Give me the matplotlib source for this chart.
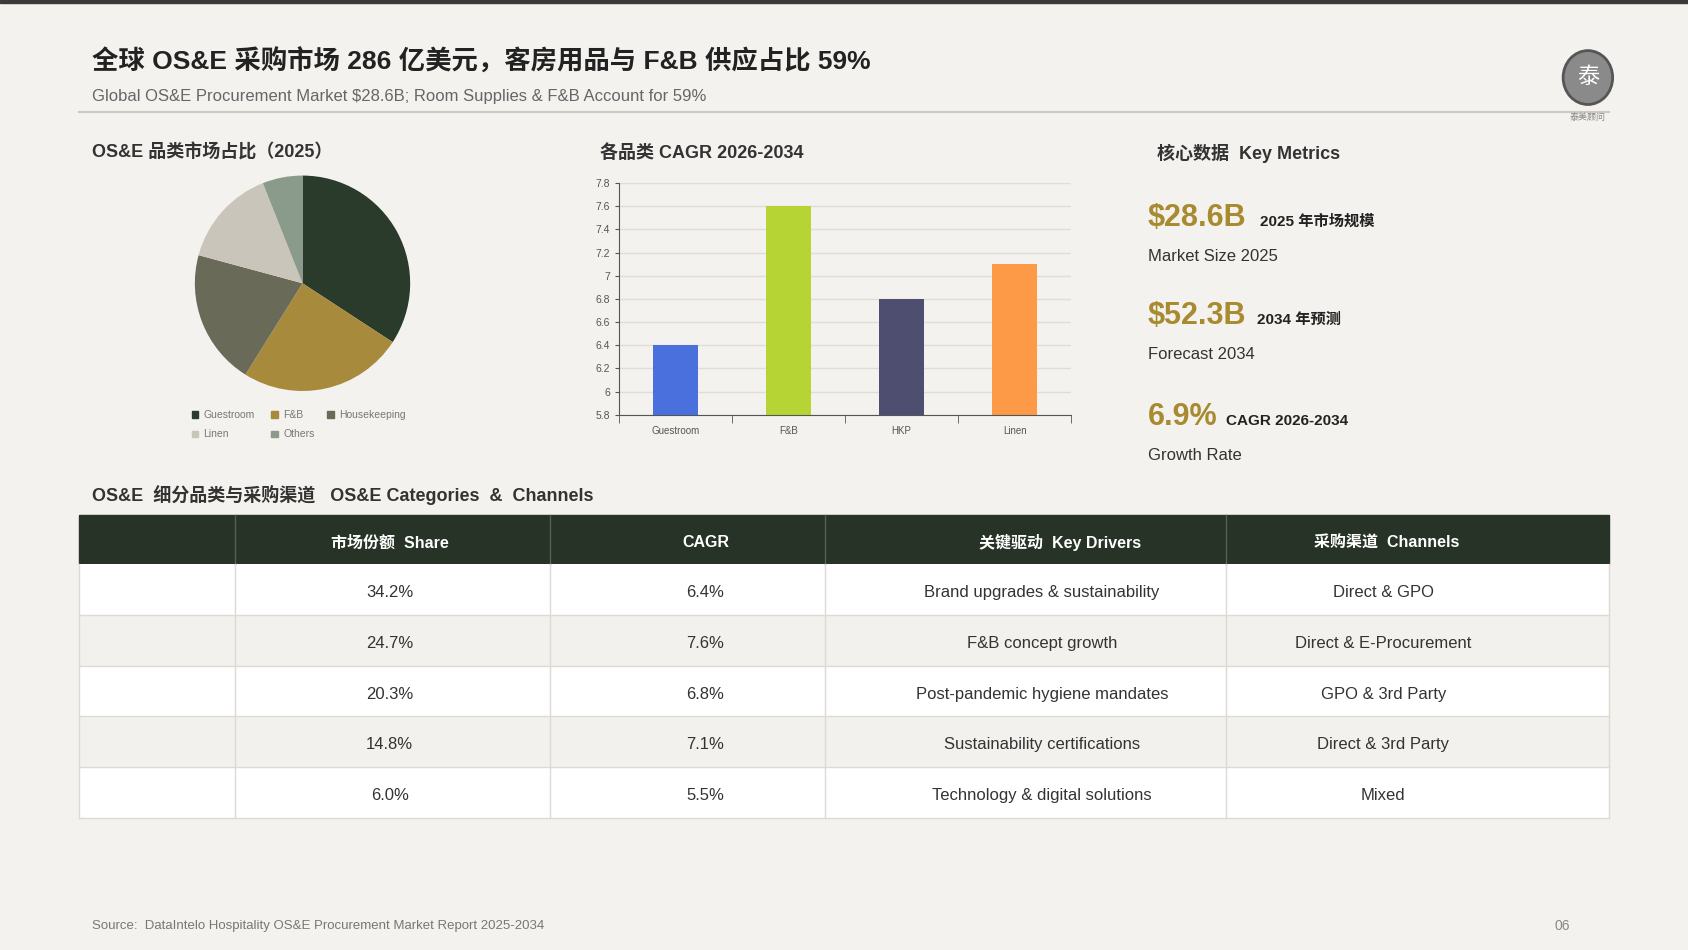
import matplotlib
matplotlib.use("Agg")
import matplotlib.pyplot as plt
from matplotlib.patches import Rectangle, Ellipse
from matplotlib.lines import Line2D

plt.rcParams['font.family'] = ['Liberation Sans', 'Noto Sans CJK SC', 'DejaVu Sans']

pie_labels = ["Guestroom", "F&B", "Housekeeping", "Linen", "Others"]
pie_values = [34.2, 24.7, 20.3, 14.8, 6.0]
pie_colors = ["#2a3a2b", "#a78a3b", "#6a6a59", "#c9c5ba", "#8a9b8c"]

bar_cats = ["Guestroom", "F&B", "HKP", "Linen"]
bar_vals = [6.4, 7.6, 6.8, 7.1]
bar_colors = ["#4a70dd", "#b6d534", "#4e4e70", "#fc9a48"]

tbl_header = ["", "市场份额  Share", "CAGR", "关键驱动  Key Drivers", "采购渠道  Channels"]
tbl_share = ["34.2%", "24.7%", "20.3%", "14.8%", "6.0%"]
tbl_cagr = ["6.4%", "7.6%", "6.8%", "7.1%", "5.5%"]
tbl_drivers = ["Brand upgrades & sustainability", "F&B concept growth",
               "Post-pandemic hygiene mandates", "Sustainability certifications",
               "Technology & digital solutions"]
tbl_channels = ["Direct & GPO", "Direct & E-Procurement", "GPO & 3rd Party",
                "Direct & 3rd Party", "Mixed"]

W, H = 1568, 882
def X(x): return x / W
def Y(y): return 1 - y / H

fig = plt.figure(figsize=(16.88, 9.5), dpi=100)
fig.patch.set_facecolor("#f4f2ee")

fig.add_artist(Rectangle((0, Y(3)), 1, 3 / H, transform=fig.transFigure, color="#3a3a3a"))
fig.text(X(85), Y(57), "全球 OS&E 采购市场 286 亿美元，客房用品与 F&B 供应占比 59%",
         fontsize=19, fontweight="bold", color="#222", va="center")
fig.text(X(85), Y(90), "Global OS&E Procurement Market $28.6B; Room Supplies & F&B Account for 59%",
         fontsize=12, color="#666", va="center")
fig.add_artist(Line2D([X(73), X(1495)], [Y(104), Y(104)], transform=fig.transFigure,
                      color="#cfcac0", lw=1.5))
# logo
fig.add_artist(Ellipse((X(1475), Y(72)), 46 / W, 50 / H, transform=fig.transFigure,
                       facecolor="#8a8a8a", edgecolor="#555", lw=2))
fig.text(X(1475), Y(72), "泰", fontsize=16, color="white", ha="center", va="center")
fig.text(X(1475), Y(109), "泰美顾问", fontsize=6.5, color="#888", ha="center", va="center")

fig.text(X(85), Y(142), "OS&E 品类市场占比（2025）", fontsize=13, fontweight="bold", color="#333", va="center")
fig.text(X(557), Y(142), "各品类 CAGR 2026-2034", fontsize=13, fontweight="bold", color="#333", va="center")
fig.text(X(1075), Y(142), "核心数据  Key Metrics", fontsize=13, fontweight="bold", color="#333", va="center")

# pie
r = 100
axp = fig.add_axes([X(281 - r), Y(263 + r), 2 * r / W, 2 * r / H])
axp.pie(pie_values, colors=pie_colors, startangle=90, counterclock=False)
axp.set_aspect("auto")
axp.set_xlim(-1, 1); axp.set_ylim(-1, 1)
leg_pos = [(178, 385), (252, 385), (304, 385), (178, 403), (252, 403)]
for (lx, ly), lab, c in zip(leg_pos, pie_labels, pie_colors):
    fig.add_artist(Rectangle((X(lx), Y(ly + 3)), 6 / W, 6 / H, transform=fig.transFigure, color=c))
    fig.text(X(lx + 11), Y(ly), lab, fontsize=7.5, color="#777", va="center")

# bar
axb = fig.add_axes([X(575), Y(385), (995 - 575) / W, (385 - 170) / H])
axb.set_facecolor("#f4f2ee")
xs = range(len(bar_cats))
axb.bar(xs, bar_vals, color=bar_colors, width=0.4)
axb.set_ylim(5.8, 7.8)
axb.set_xlim(-0.5, 3.5)
axb.set_yticks([5.8 + 0.2 * i for i in range(11)])
axb.set_yticklabels(["5.8", "6", "6.2", "6.4", "6.6", "6.8", "7", "7.2", "7.4", "7.6", "7.8"])
axb.set_xticks(list(xs))
axb.set_xticklabels(bar_cats)
axb.set_xticks([-0.5, 0.5, 1.5, 2.5, 3.5], minor=True)
axb.tick_params(axis="x", which="major", length=0, labelsize=7, colors="#555", pad=8)
axb.tick_params(axis="x", which="minor", length=6, color="#555")
axb.tick_params(axis="y", labelsize=7.5, colors="#555", length=3)
axb.grid(axis="y", color="#e0ddd6", lw=1)
axb.set_axisbelow(True)
for s in ["top", "right"]:
    axb.spines[s].set_visible(False)
axb.spines["left"].set_color("#555")
axb.spines["bottom"].set_color("#555")

gold = "#a88b30"
metrics = [(202, "$28.6B", "2025 年市场规模", "Market Size 2025", 1170),
           (293, "$52.3B", "2034 年预测", "Forecast 2034", 1168),
           (387, "6.9%", "CAGR 2026-2034", "Growth Rate", 1139)]
for y, big, small, sub, sx in metrics:
    fig.text(X(1066), Y(y), big, fontsize=22, fontweight="bold", color=gold, va="center")
    fig.text(X(sx), Y(y + 4), small, fontsize=11, fontweight="bold", color="#222", va="center")
    fig.text(X(1066), Y(y + 36), sub, fontsize=12, color="#333", va="center")

# table
fig.text(X(85), Y(460), "OS&E  细分品类与采购渠道   OS&E Categories  &  Channels",
         fontsize=13, fontweight="bold", color="#333", va="center")
cols = [73, 218, 511, 766, 1139, 1495]
hdr_x = [145, 362, 656, 985, 1288]
cell_x = [362, 655, 968, 1285]
top, hh, rh = 478, 46, 47
fig.add_artist(Rectangle((X(73), Y(top + hh)), (1495 - 73) / W, hh / H,
                         transform=fig.transFigure, color="#263326"))
for i, t in enumerate(tbl_header):
    fig.text(X(hdr_x[i]), Y(top + hh / 2 + 3), t, fontsize=11.5, fontweight="bold", color="white",
             ha="center", va="center")
    if i > 0:
        fig.add_artist(Line2D([X(cols[i])] * 2, [Y(top), Y(top + hh)], transform=fig.transFigure,
                              color="#556055", lw=1))
rows = list(zip(tbl_share, tbl_cagr, tbl_drivers, tbl_channels))
for r_i, row in enumerate(rows):
    y0 = top + hh + r_i * rh
    fc = "#ffffff" if r_i % 2 == 0 else "#f3f1ed"
    fig.add_artist(Rectangle((X(73), Y(y0 + rh)), (1495 - 73) / W, rh / H,
                             transform=fig.transFigure, facecolor=fc, edgecolor="none"))
    fig.add_artist(Line2D([X(73), X(1495)], [Y(y0 + rh)] * 2, transform=fig.transFigure,
                          color="#dddad3", lw=1))
    for c_i, t in enumerate(row):
        fig.text(X(cell_x[c_i]), Y(y0 + rh / 2 + 3), t, fontsize=12, color="#333",
                 ha="center", va="center")
for c in cols:
    fig.add_artist(Line2D([X(c)] * 2, [Y(top + hh), Y(top + hh + 5 * rh)], transform=fig.transFigure,
                          color="#dddad3", lw=1))

fig.text(X(85), Y(860), "Source:  DataIntelo Hospitality OS&E Procurement Market Report 2025-2034",
         fontsize=9.5, color="#777", va="center")
fig.text(X(1458), Y(860), "06", fontsize=10, color="#888", ha="right", va="center")

fig.savefig("out.png", dpi=100, facecolor=fig.get_facecolor())
